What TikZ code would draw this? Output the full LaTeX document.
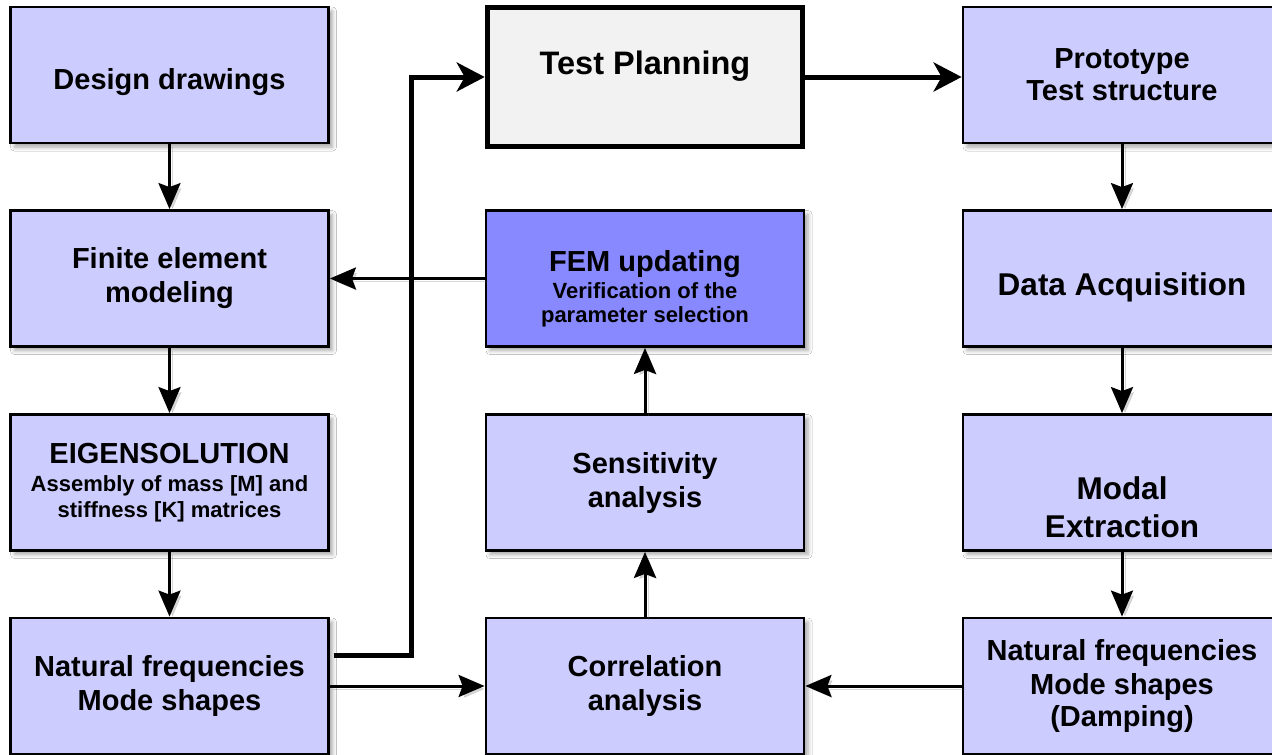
\documentclass[tikz,border=0pt]{standalone}
\usepackage{fontspec}
\setmainfont{Liberation Sans}
\usetikzlibrary{arrows.meta,shadows.blur,calc}

\definecolor{boxfill}{RGB}{204,204,255}
\definecolor{femfill}{RGB}{136,136,255}
\definecolor{planfill}{RGB}{242,242,242}

\newcommand{\subline}{\fontsize{22}{25}\selectfont}
% invisible struts that push a label down (padtop) or up (padbot)
\newcommand{\padtop}[1]{\rule{0pt}{#1}}
\newcommand{\padbot}[1]{\rule[-#1]{0pt}{#1}}

\tikzset{
  box/.style={draw=black, line width=2.8pt, fill=boxfill,
    minimum width=318pt, minimum height=136pt, inner sep=0pt,
    align=center, font=\bfseries\fontsize{29}{34}\selectfont,
    blur shadow={shadow xshift=4pt, shadow yshift=-4pt,
      shadow blur radius=4pt, shadow opacity=35}},
  bigtext/.style={font=\bfseries\fontsize{31.5}{38}\selectfont},
  planbox/.style={draw=black, line width=5.5pt, fill=planfill,
    minimum width=315pt, minimum height=139pt, inner sep=0pt,
    align=center, font=\bfseries\fontsize{32.5}{38}\selectfont},
  lineshade/.style={preaction={draw=black!60, opacity=0.25,
    transform canvas={xshift=3pt, yshift=-3pt}}},
  flow/.style={line width=3pt, lineshade,
    -{Stealth[length=26pt, width=22pt, inset=4pt]}},
  bigflow/.style={line width=5pt,
    -{Stealth[length=28pt, width=29pt, inset=8pt]}},
}

\begin{document}
\begin{tikzpicture}[x=1pt, y=-1pt]
  \clip (0,0) rectangle (1272,755);
  \fill[white] (0,0) rectangle (1272,755);

  % left column: analytical model
  \node[box] (design) at (169.5,75) {\padtop{35pt}Design drawings};
  \node[box] (fe) at (169.5,278.5) {Finite element\\modeling};
  \node[box] (eig) at (169.5,482.5)
    {EIGENSOLUTION\\[-6pt]\subline Assembly of mass [M] and\\[-8pt]\subline stiffness [K] matrices};
  \node[box] (nfa) at (169.5,686) {Natural frequencies\\Mode shapes};

  % middle column
  \node[planbox] (plan) at (645,77) {Test Planning\padbot{29pt}};
  \node[box, fill=femfill] (fem) at (645,278.5)
    {\padtop{42pt}FEM updating\\[-7pt]\subline Verification of the\\[-10.5pt]\subline parameter selection};
  \node[box] (sens) at (645,482.5) {Sensitivity\\analysis};
  \node[box] (corr) at (645,686) {Correlation\\analysis};

  % right column: experimental side
  \node[box] (proto) at (1122,75) {Prototype\\[-2pt]Test structure};
  \node[box, bigtext] (daq) at (1122,278.5) {\padtop{41pt}Data Acquisition};
  \node[box, bigtext] (modal) at (1122,482.5) {\padtop{72pt}Modal\\Extraction};
  \node[box] (nfe) at (1122,686) {Natural frequencies\\Mode shapes\\[-2pt](Damping)};

  % connectors
  \draw[flow] (design) -- (fe);
  \draw[flow] (fe) -- (eig);
  \draw[flow] (eig) -- (nfa);
  \draw[flow] (nfa) -- (corr);
  \draw[flow] (nfe) -- (corr);
  \draw[flow] (corr) -- (sens);
  \draw[flow] (sens) -- (fem);
  \draw[flow] (fem) -- (fe);
  \draw[flow] (proto) -- (daq);
  \draw[flow] (daq) -- (modal);
  \draw[flow] (modal) -- (nfe);

  \coordinate (start) at ($(nfa.east)+(4pt,31pt)$);
  \coordinate (jog) at (411,77);
  \draw[bigflow] (start) -| (jog) -- (plan.west);
  \draw[bigflow] (plan.east) -- (plan.east -| proto.west);
\end{tikzpicture}
\end{document}
